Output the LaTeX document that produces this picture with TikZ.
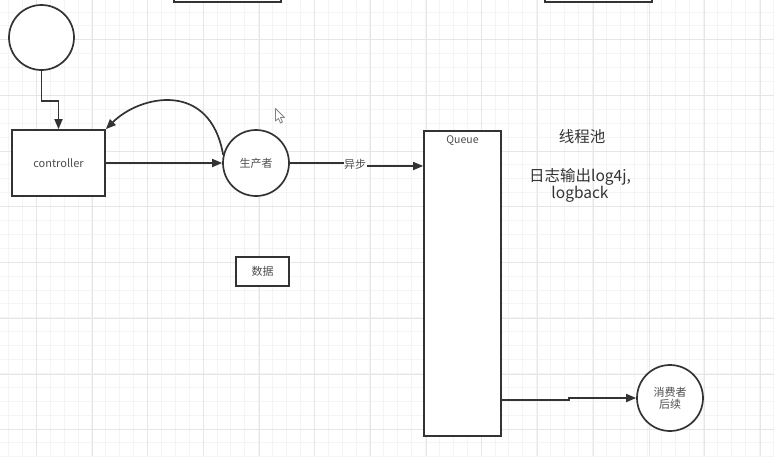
\documentclass[tikz,border=0pt]{standalone}
\usepackage{fontspec}
\setmainfont{Noto Sans CJK SC}
\usetikzlibrary{positioning,arrows.meta,calc}
\definecolor{ink}{HTML}{333333}
\definecolor{txt}{HTML}{4D4D4D}
\definecolor{gridmin}{HTML}{F4F4F4}
\definecolor{gridmaj}{HTML}{E6E6E6}
\tikzset{
  box/.style  = {draw=ink, line width=1.7pt, fill=white, inner sep=0pt,
                 font=\fontsize{11}{13}\selectfont, text=txt},
  circ/.style = {box, circle, minimum size=66pt, align=center},
  ar/.style   = {-{Triangle[length=10pt, width=8pt]}, draw=ink, line width=1.7pt},
  lbl/.style  = {font=\fontsize{11}{13}\selectfont, text=txt, fill=white, inner sep=0.5pt},
  note/.style = {font=\fontsize{15.5}{19}\selectfont, text=ink, align=center, inner sep=0pt},
}
\begin{document}
\begin{tikzpicture}[x=1pt, y=-1pt]
\useasboundingbox (0,0) rectangle (774,456);
\fill[white] (0,0) rectangle (774,456);

% --- grid ---
\foreach \gx in {-5.4,8.5,...,780} \draw[gridmin, line width=1pt] (\gx,0) -- (\gx,456);
\foreach \gy in {-1.9,12,...,460} \draw[gridmin, line width=1pt] (0,\gy) -- (774,\gy);
\foreach \gx in {36.3,92,...,780} \draw[gridmaj, line width=1pt] (\gx,0) -- (\gx,456);
\foreach \gy in {39.8,95.5,...,460} \draw[gridmaj, line width=1pt] (0,\gy) -- (774,\gy);

% --- boxes cut off at the top ---
\node[box, minimum width=107pt, minimum height=20pt] (topl) at (227.5,-8) {};
\node[box, minimum width=107pt, minimum height=20pt] (topr) at (598.5,-8) {};

% --- nodes ---
\node[circ, minimum size=65pt] (start) at (41.5,37.5) {};
\node[box, minimum width=93pt, minimum height=66pt] (ctrl) at (58.5,163) {controller};
\node[circ] (prod) at (256,163) {生产者};
\node[box, minimum width=53pt, minimum height=29pt] (data) at (262.5,271.5) {数据};
\node[box, minimum width=77pt, minimum height=305pt] (queue) at (462.5,283.5) {};
\node[font=\fontsize{10.5}{12}\selectfont, text=txt, below=1.5pt of queue.north] (qlbl) {Queue};
\node[circ, minimum size=66pt, font=\fontsize{11}{14}\selectfont] (cons) at (670,398)
     {消费者\\[-2pt]后续};

% --- notes ---
\node[note] (pool) at (582,137) {线程池};
\node[note] (logs) at (580,185.5) {日志输出log4j,\\[-2pt]logback};

% --- mouse pointer ---
\draw[txt!70, line width=0.8pt, line join=round] (275.5,108.5) -- (275.5,121) -- (278.5,118.5)
     -- (280.5,123) -- (282.5,122) -- (280.5,117.5) -- (284.5,117.5) -- cycle;

% --- connectors ---
\draw[ar] (start.south) -- ++(0,30) -| (ctrl.north);
\draw[ar] (ctrl.east) -- (prod.west);
\draw[ar] (prod.166) .. controls (210,80) and (140,95) .. (ctrl.north east);
\draw[ar] (prod.east) -- (345,163) -- (345,166) -- (queue.west |- 0,166);
\node[lbl] (async) at (355,164.5) {异步};
\draw[ar] (queue.east |- 0,400) -- (569,400) -- (569,398) -- (cons.west);
\end{tikzpicture}
\end{document}
